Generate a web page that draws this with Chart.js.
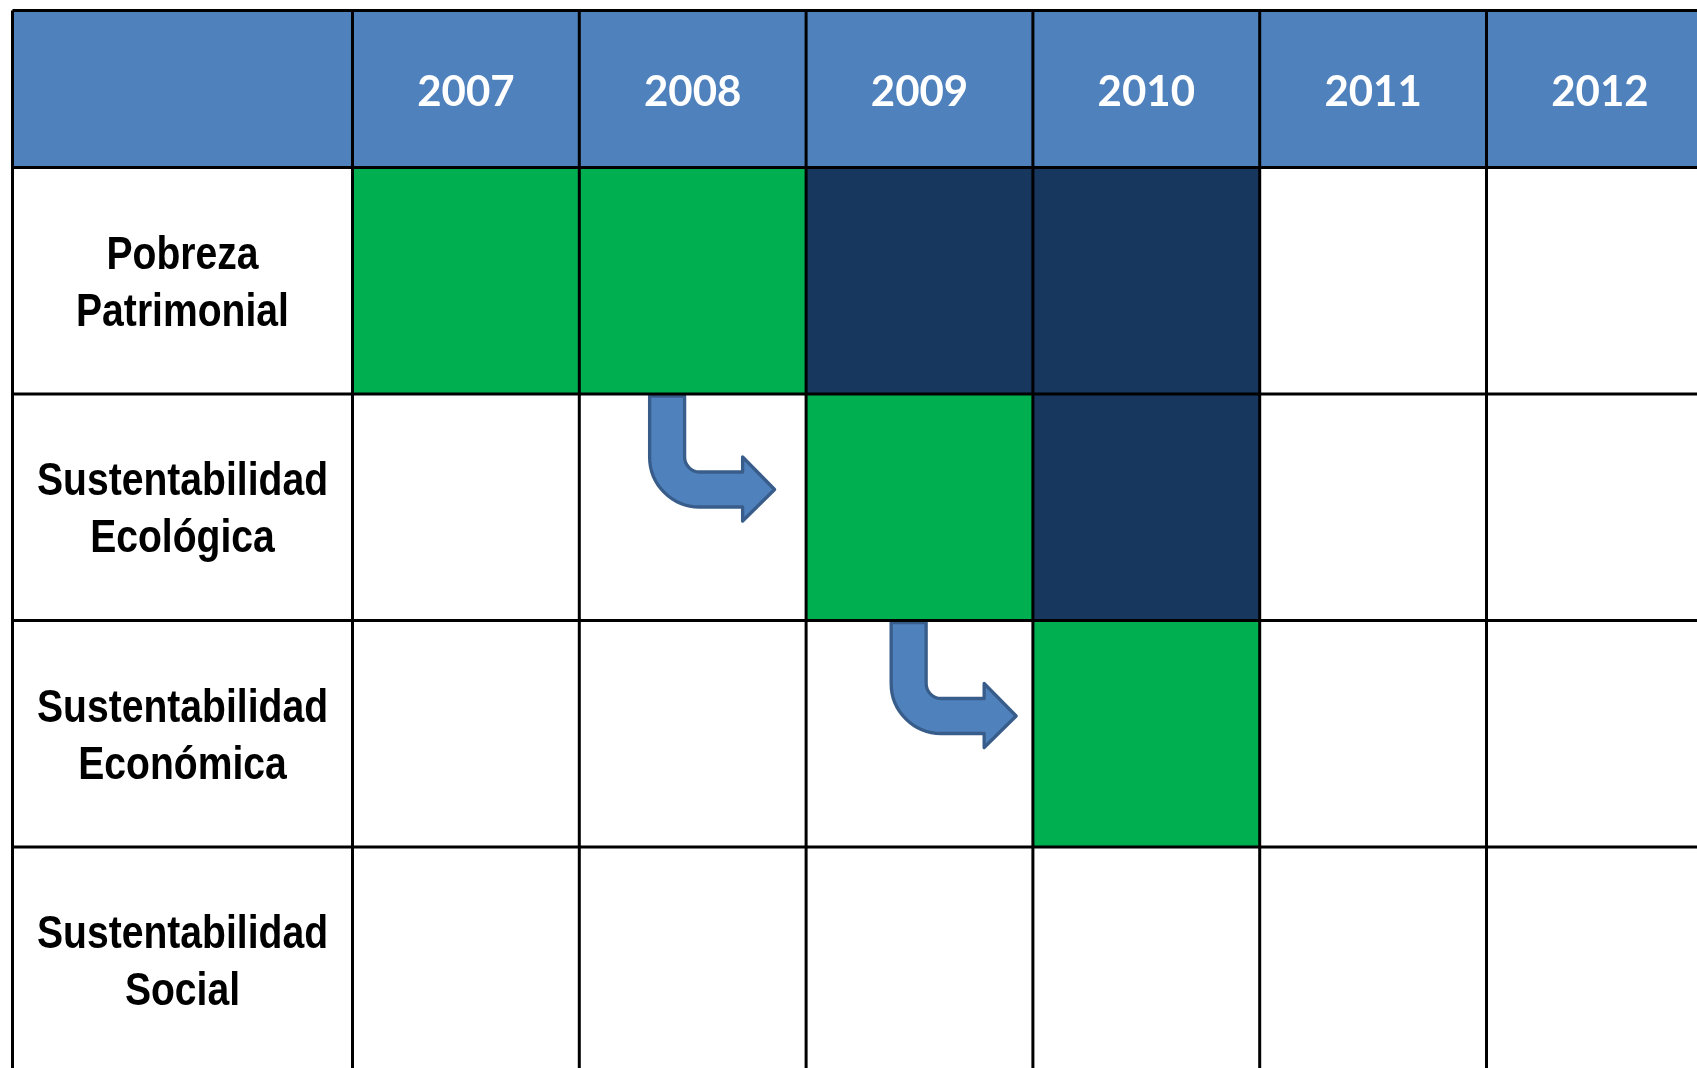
<!DOCTYPE html>
<html>
<head>
<meta charset="utf-8">
<script src="https://cdn.jsdelivr.net/npm/chart.js@4.4.1/dist/chart.umd.min.js"></script>
<style>
  html, body { margin: 0; padding: 0; background: #fff; overflow: hidden; }
  canvas { display: block; }
</style>
</head>
<body>
<canvas id="plan" width="1720" height="1080"></canvas>
<script>
const years = ['2007', '2008', '2009', '2010', '2011', '2012'];
const rowLabels = [
  ['Pobreza', 'Patrimonial'],
  ['Sustentabilidad', 'Ecológica'],
  ['Sustentabilidad', 'Económica'],
  ['Sustentabilidad', 'Social'],
];
// status per year: 'g' = green, 'n' = navy, '' = empty
const pobreza = ['g', 'g', 'n', 'n', '', ''];
const ecologica = ['', '', 'g', 'n', '', ''];
const economica = ['', '', '', 'g', '', ''];
const social = ['', '', '', '', '', ''];
const statusRows = [pobreza, ecologica, economica, social];
// arrows: cell where the arrow sits (row index, year) and where it starts in the column
const arrows = [
  { row: 1, year: '2008', offset: 0.31 },
  { row: 2, year: '2009', offset: 0.375 },
];

const colors = { g: '#00B050', n: '#17375E' };
const headerBlue = '#4F81BD';
const labelFont = 'bold 46px "Liberation Sans", Arimo, Arial, sans-serif';

const rowKeys = rowLabels.map((r) => r.join(' '));

function cellsFor(status) {
  const cells = [];
  statusRows.forEach((row, r) => {
    row.forEach((s, c) => {
      if (s === status) cells.push({ y: rowKeys[r], x: [c, c + 1] });
    });
  });
  return cells;
}

const tablePlugin = {
  id: 'tablePlugin',
  beforeDraw(chart) {
    const { ctx, chartArea, scales: { x, y } } = chart;
    ctx.save();
    ctx.fillStyle = headerBlue;
    ctx.fillRect(y.left, x.top, chartArea.right - y.left, chartArea.top - x.top);
    ctx.restore();
  },
  afterDatasetsDraw(chart) {
    const { ctx, chartArea, scales: { x, y } } = chart;
    const colW = x.getPixelForValue(1) - x.getPixelForValue(0);
    const rowH = y.getPixelForValue(1) - y.getPixelForValue(0);

    // row labels (narrow bold, like Arial Narrow)
    ctx.save();
    ctx.font = labelFont;
    ctx.fillStyle = '#000';
    ctx.textAlign = 'center';
    ctx.textBaseline = 'middle';
    const cx = (y.left + y.right) / 2;
    rowLabels.forEach((lines, i) => {
      const cy = y.getPixelForValue(i);
      lines.forEach((line, j) => {
        const ly = cy + (j - (lines.length - 1) / 2) * 57;
        ctx.save();
        ctx.translate(cx, ly);
        ctx.scale(0.85, 1);
        ctx.fillText(line, 0, 4);
        ctx.restore();
      });
    });
    ctx.restore();

    // arrows
    arrows.forEach((a) => {
      const c = years.indexOf(a.year);
      const left = x.getPixelForValue(c) + a.offset * colW;
      const top = y.getPixelForValue(a.row) - rowH / 2 + 2;
      const k = rowH / 226.5;
      const p = (px, py) => [left + px * k, top + py * k];
      const r = 15;
      const R = 50;
      ctx.save();
      ctx.beginPath();
      ctx.moveTo(...p(0, 0));
      ctx.lineTo(...p(35, 0));
      ctx.lineTo(...p(35, 76 - r));
      ctx.arcTo(...p(35, 76), ...p(35 + r, 76), r * k);
      ctx.lineTo(...p(93, 76));
      ctx.lineTo(...p(93, 61));
      ctx.lineTo(...p(125, 93.5));
      ctx.lineTo(...p(93, 125));
      ctx.lineTo(...p(93, 111));
      ctx.lineTo(...p(R, 111));
      ctx.arcTo(...p(0, 111), ...p(0, 111 - R), R * k);
      ctx.closePath();
      ctx.fillStyle = '#4F81BD';
      ctx.fill();
      ctx.lineWidth = 3.3;
      ctx.lineJoin = 'round';
      ctx.strokeStyle = '#385D8A';
      ctx.stroke();
      ctx.restore();
    });

    // grid lines
    ctx.save();
    ctx.strokeStyle = '#000';
    ctx.lineWidth = 3;
    ctx.beginPath();
    ctx.moveTo(y.left, x.top);
    ctx.lineTo(y.left, chartArea.bottom);
    for (let i = 0; i <= years.length; i++) {
      const px = x.getPixelForValue(i);
      ctx.moveTo(px, x.top);
      ctx.lineTo(px, chartArea.bottom);
    }
    ctx.moveTo(y.left, x.top);
    ctx.lineTo(chartArea.right, x.top);
    for (let i = 0; i <= rowKeys.length; i++) {
      const py = y.getPixelForValue(i) - rowH / 2;
      ctx.moveTo(y.left, py);
      ctx.lineTo(chartArea.right, py);
    }
    ctx.stroke();
    ctx.restore();
  },
};

new Chart(document.getElementById('plan'), {
  type: 'bar',
  data: {
    labels: rowKeys,
    datasets: [
      { label: 'verde', data: cellsFor('g'), backgroundColor: colors.g },
      { label: 'azul', data: cellsFor('n'), backgroundColor: colors.n },
    ],
  },
  options: {
    indexAxis: 'y',
    responsive: false,
    animation: false,
    grouped: false,
    barPercentage: 1,
    categoryPercentage: 1,
    layout: { padding: { left: 12.5, top: 10.5, right: 6.7, bottom: 6.5 } },
    plugins: { legend: { display: false }, tooltip: { enabled: false } },
    scales: {
      x: {
        type: 'linear',
        position: 'top',
        min: 0,
        max: years.length,
        grid: { display: false, drawTicks: false },
        border: { display: false },
        afterBuildTicks: (scale) => {
          scale.ticks = years.map((_, i) => ({ value: i + 0.5 }));
        },
        afterFit: (scale) => { scale.height = 157; },
        ticks: {
          callback: (value, index) => years[index],
          color: '#fff',
          maxRotation: 0,
          autoSkip: false,
          padding: 54,
          font: { family: 'Lato, "Open Sans", sans-serif', size: 42, weight: 'bold', lineHeight: 1 },
        },
      },
      y: {
        type: 'category',
        grid: { display: false, drawTicks: false },
        border: { display: false },
        afterFit: (scale) => { scale.width = 340; },
        ticks: { display: false },
      },
    },
  },
  plugins: [tablePlugin],
});
</script>
</body>
</html>
